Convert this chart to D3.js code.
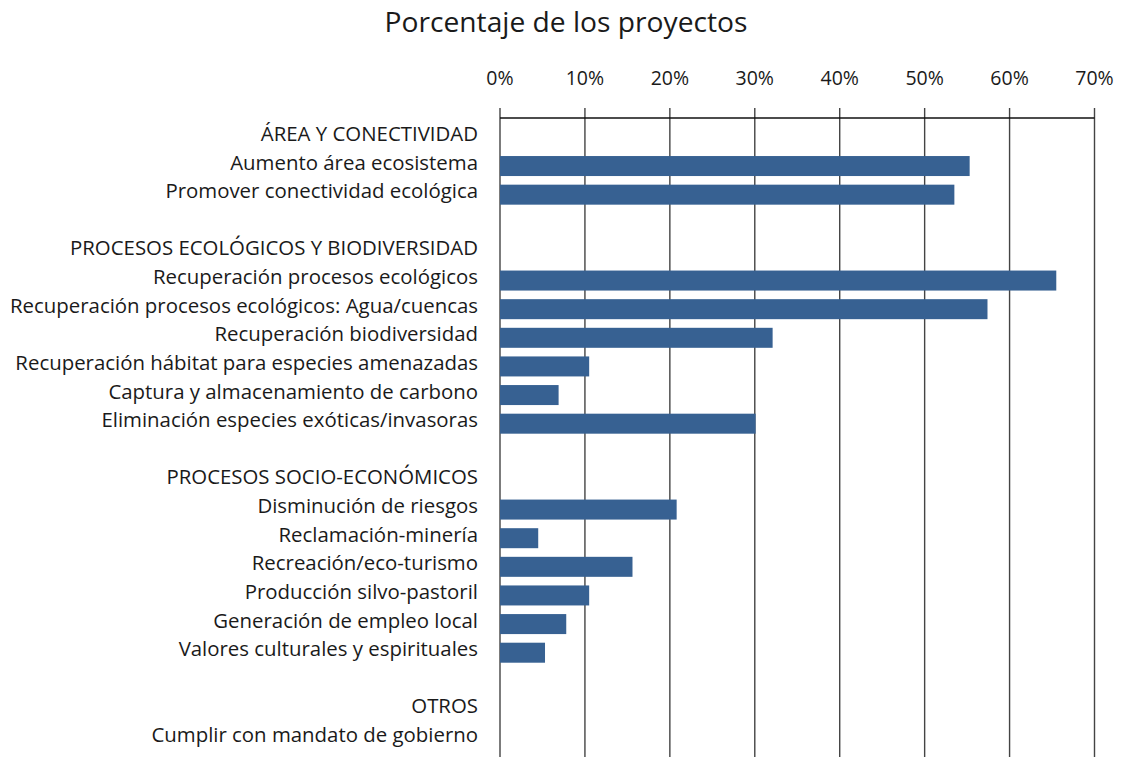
<!DOCTYPE html>
<html>
<head>
<meta charset="utf-8">
<script src="https://cdn.jsdelivr.net/npm/d3@7"></script>
<style>
  html, body { margin: 0; padding: 0; background: #fff; }
  svg { display: block; }
  text { font-family: "Open Sans", "Noto Sans", sans-serif; fill: #1a1a1a; }
</style>
</head>
<body>
<svg id="chart" width="1124" height="757"></svg>
<script>
const categories = [
  "ÁREA Y CONECTIVIDAD",
  "Aumento área ecosistema",
  "Promover conectividad ecológica",
  "",
  "PROCESOS ECOLÓGICOS Y BIODIVERSIDAD",
  "Recuperación procesos ecológicos",
  "Recuperación procesos ecológicos: Agua/cuencas",
  "Recuperación biodiversidad",
  "Recuperación hábitat para especies amenazadas",
  "Captura y almacenamiento de carbono",
  "Eliminación especies exóticas/invasoras",
  " ",
  "PROCESOS SOCIO-ECONÓMICOS",
  "Disminución de riesgos",
  "Reclamación-minería",
  "Recreación/eco-turismo",
  "Producción silvo-pastoril",
  "Generación de empleo local",
  "Valores culturales y espirituales",
  "  ",
  "OTROS",
  "Cumplir con mandato de gobierno"
];
const values = [
  null, 55.3, 53.5, null,
  null, 65.5, 57.4, 32.1, 10.5, 6.9, 30.1, null,
  null, 20.8, 4.5, 15.6, 10.5, 7.8, 5.3, null,
  null, 0
];
const tickValues = [0, 10, 20, 30, 40, 50, 60, 70];
const title = "Porcentaje de los proyectos";

const svg = d3.select("#chart");
const x = d3.scaleLinear().domain([0, 70]).range([500, 1094.5]);
const y = d3.scaleBand().domain(categories).range([123.1, 752.9]).paddingInner(0.3).paddingOuter(0.15);

// title
svg.append("text")
  .attr("x", 566).attr("y", 32)
  .attr("text-anchor", "middle")
  .style("font-size", "28.2px")
  .text(title);

// gridlines
svg.append("g").selectAll("line").data(tickValues).join("line")
  .attr("x1", d => x(d)).attr("x2", d => x(d))
  .attr("y1", 108).attr("y2", 757)
  .attr("stroke", "#444").attr("stroke-width", 1.4);

// axis line
svg.append("line")
  .attr("x1", x(0)).attr("x2", x(70))
  .attr("y1", 118).attr("y2", 118)
  .attr("stroke", "#111").attr("stroke-width", 1.3);

// tick labels
svg.append("g").selectAll("text").data(tickValues).join("text")
  .attr("x", d => x(d)).attr("y", 85)
  .attr("text-anchor", "middle")
  .style("font-size", "19.5px")
  .text(d => d + "%");

// bars
const data = categories.map((c, i) => ({c, v: values[i]})).filter(d => d.v !== null);
svg.append("g").selectAll("rect").data(data).join("rect")
  .attr("x", x(0))
  .attr("y", d => y(d.c) + y.bandwidth() / 2 - 10)
  .attr("width", d => x(d.v) - x(0))
  .attr("height", 20)
  .attr("fill", "#376192");

// category labels
svg.append("g").selectAll("text").data(categories.filter(c => c.trim() !== "")).join("text")
  .attr("x", 478)
  .attr("y", d => y(d) + y.bandwidth() / 2 + 3.5)
  .attr("text-anchor", "end")
  .style("font-size", "20.4px")
  .text(d => d);
</script>
</body>
</html>
